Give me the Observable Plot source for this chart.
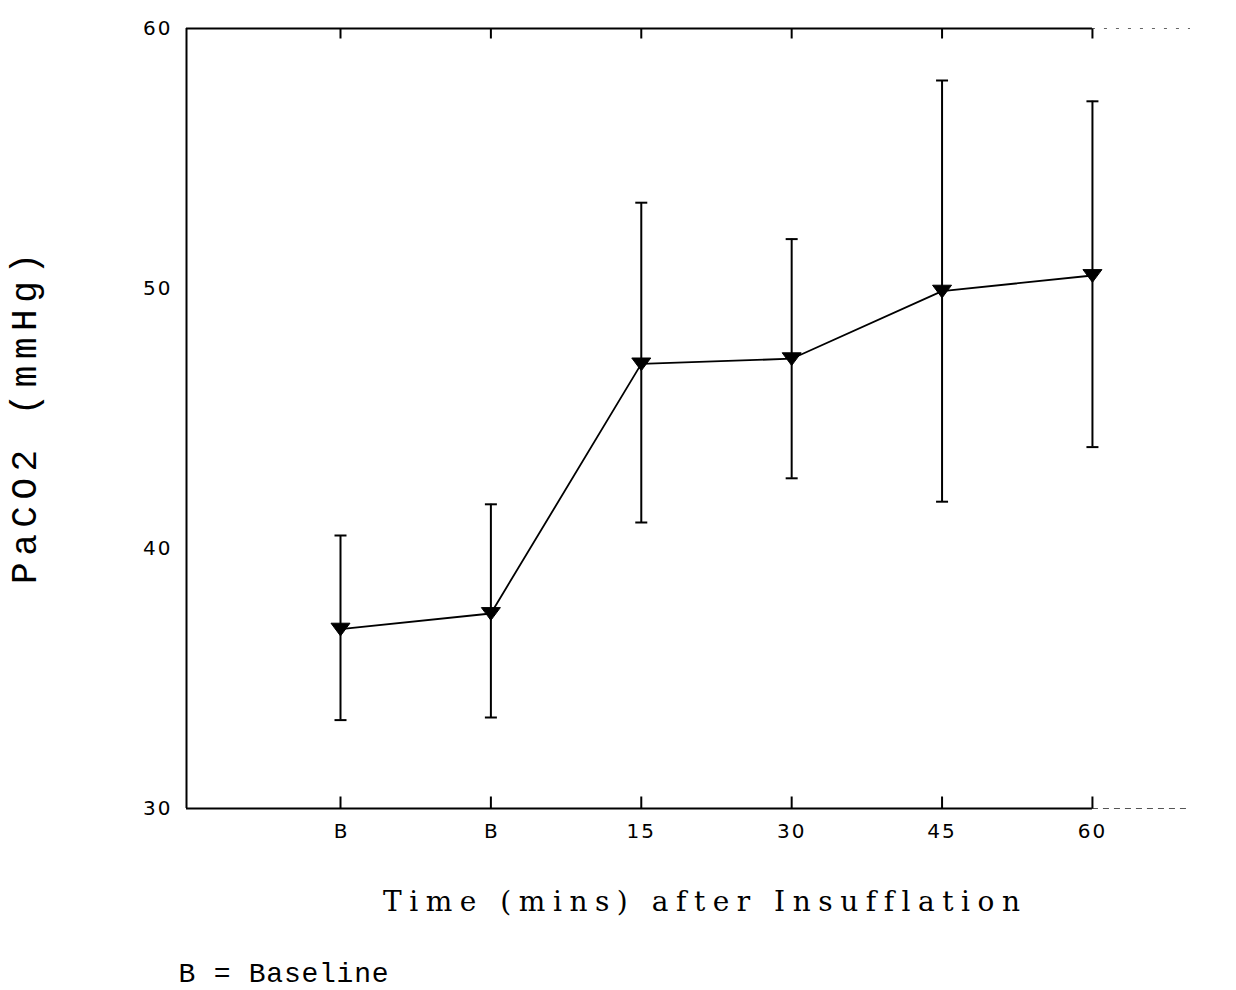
<!DOCTYPE html>
<html>
<head>
<meta charset="utf-8">
<script src="https://cdn.jsdelivr.net/npm/d3@7"></script>
<script src="https://cdn.jsdelivr.net/npm/@observablehq/plot@0.6"></script>
<style>
  html, body { margin: 0; padding: 0; background: #fff; }
  #chart svg { display: block; }
  #chart svg text { font-variant-ligatures: none; }
</style>
</head>
<body>
<div id="chart"></div>
<script>
// ---- data ----
const tickLabels = ["B", "B", "15", "30", "45", "60"];
const positions = [0, 1, 2, 3, 4, 5];
const means = [36.9, 37.5, 47.1, 47.3, 49.9, 50.5];
const upper = [40.5, 41.7, 53.3, 51.9, 58.0, 57.2];
const lower = [33.4, 33.5, 41.0, 42.7, 41.8, 43.9];
const yTicks = [30, 40, 50, 60];
const xTitle = "Time (mins) after Insufflation";
const yTitle = "PaCO2 (mmHg)";
const note = "B = Baseline";

const xDomain = [-1.024, 5.652];
const yDomain = [30, 60];

const table = positions.map((p, i) => ({
  x: p, label: tickLabels[i], mean: means[i], hi: upper[i], lo: lower[i]
}));

// custom symbols
const downTriangle = {
  draw(ctx, size) {
    const r = Math.sqrt(size / Math.PI);
    ctx.moveTo(-r, -0.62 * r);
    ctx.lineTo(r, -0.62 * r);
    ctx.lineTo(0, 0.72 * r);
    ctx.closePath();
  }
};
const capSym = {
  draw(ctx, size) {
    const r = Math.sqrt(size / Math.PI);
    ctx.moveTo(-r, 0);
    ctx.lineTo(r, 0);
  }
};
const tickUp = {
  draw(ctx, size) {
    const r = Math.sqrt(size / Math.PI);
    ctx.moveTo(0, 0);
    ctx.lineTo(0, -r);
  }
};
const tickDown = {
  draw(ctx, size) {
    const r = Math.sqrt(size / Math.PI);
    ctx.moveTo(0, 0);
    ctx.lineTo(0, r);
  }
};

const lastX = positions[positions.length - 1];
const tickFont = "DejaVu Sans, Liberation Sans, sans-serif";

const chart = Plot.plot({
  width: 1236,
  height: 990,
  marginLeft: 186,
  marginRight: 46,
  marginTop: 28,
  marginBottom: 182,
  style: { background: "#fff", color: "#000", overflow: "visible", fontFamily: tickFont },
  x: { domain: xDomain, axis: null },
  y: { domain: yDomain, axis: null },
  marks: [
    // frame: left, bottom, top
    Plot.ruleX([xDomain[0]], { stroke: "#000", strokeWidth: 2 }),
    Plot.ruleY([yDomain[0]], { x1: xDomain[0], x2: lastX, stroke: "#000", strokeWidth: 2 }),
    Plot.ruleY([yDomain[0]], { x1: lastX, x2: xDomain[1], stroke: "#555", strokeWidth: 1.2, strokeDasharray: "6,5" }),
    Plot.ruleY([yDomain[1]], { x1: xDomain[0], x2: lastX, stroke: "#000", strokeWidth: 2 }),
    Plot.ruleY([yDomain[1]], { x1: lastX, x2: xDomain[1], stroke: "#666", strokeWidth: 1.2, strokeDasharray: "3,9" }),
    // inward ticks
    Plot.dot(table, { x: "x", frameAnchor: "bottom", symbol: tickUp, r: 12, stroke: "#000", strokeWidth: 2, fill: "none" }),
    Plot.dot(table, { x: "x", frameAnchor: "top", symbol: tickDown, r: 10, stroke: "#000", strokeWidth: 2, fill: "none" }),
    // axes tick labels
    Plot.text(table, {
      x: "x", text: "label", frameAnchor: "bottom", dy: 29,
      fontSize: 20, fontFamily: tickFont, fill: "#000"
    }),
    Plot.text(yTicks, {
      y: (d) => d, text: (d) => String(d), frameAnchor: "left", dx: -14, textAnchor: "end",
      fontSize: 20, fontFamily: tickFont, fill: "#000"
    }),
    // error bars
    Plot.ruleX(table, { x: "x", y1: "lo", y2: "hi", stroke: "#000", strokeWidth: 2 }),
    Plot.dot(table, { x: "x", y: "hi", symbol: capSym, r: 6, stroke: "#000", strokeWidth: 2, fill: "none" }),
    Plot.dot(table, { x: "x", y: "lo", symbol: capSym, r: 6, stroke: "#000", strokeWidth: 2, fill: "none" }),
    // mean line
    Plot.line(table, { x: "x", y: "mean", stroke: "#000", strokeWidth: 1.8 }),
    // markers
    Plot.dot(table, { x: "x", y: "mean", symbol: downTriangle, r: 9.5, fill: "#000", stroke: "#000", strokeWidth: 1 }),
    // titles
    Plot.text([xTitle], {
      text: (d) => d, frameAnchor: "bottom", dx: 13, dy: 102,
      fontSize: 28, fontFamily: "DejaVu Serif, serif", fill: "#000"
    }),
    Plot.text([yTitle], {
      text: (d) => d, frameAnchor: "left", dx: -162, rotate: -90, textAnchor: "middle",
      fontSize: 36, fontFamily: "Liberation Mono, monospace", fill: "#000"
    }),
    Plot.text([note], {
      text: (d) => d, frameAnchor: "bottom-left", dx: -8, dy: 173, textAnchor: "start",
      fontSize: 28, fontFamily: "Liberation Mono, monospace", fill: "#000"
    })
  ]
});

// stretch long titles and tick labels to their measured widths in the reference
const lengths = new Map([[xTitle, 637], [yTitle, 331], [note, 210]]);
chart.querySelectorAll("text").forEach((t) => {
  const s = t.textContent;
  const L = lengths.get(s);
  if (L) {
    t.setAttribute("textLength", L);
    t.setAttribute("lengthAdjust", "spacing");
  } else if (/^\d\d$/.test(s)) {
    t.setAttribute("letter-spacing", "2");
  }
});

document.getElementById("chart").appendChild(chart);
</script>
</body>
</html>
